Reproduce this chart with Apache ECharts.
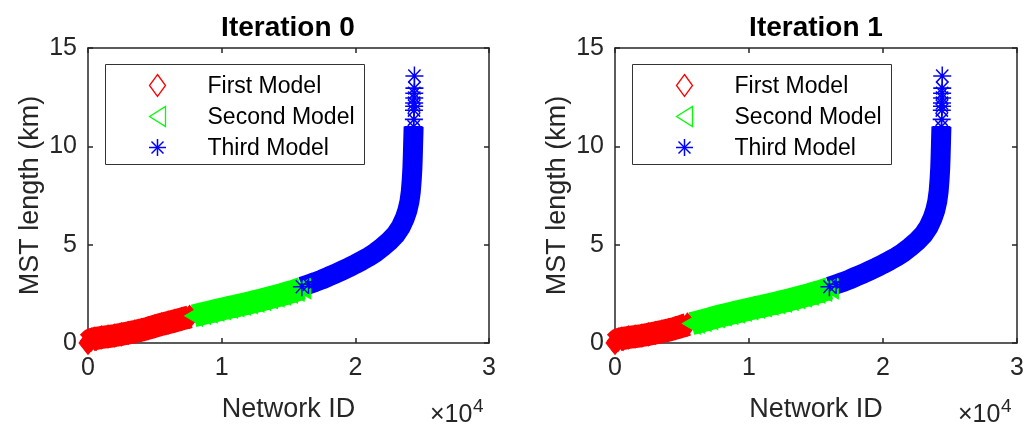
<!DOCTYPE html>
<html>
<head>
<meta charset="utf-8">
<script src="https://cdn.jsdelivr.net/npm/echarts@6/dist/echarts.min.js"></script>
<style>
	html, body { margin: 0; padding: 0; background: #fff; }
	#main { width: 1031px; height: 428px; }
</style>
</head>
<body>
<div id="main"></div>
<script>
// Iteration 0
var firstIds0 = [0, 100, 250, 500, 1000, 1500, 2000, 2500, 3000, 3500, 4000, 4500, 5000, 5500, 6000, 6500, 7000, 7600];
var firstMst0 = [0.0, 0.1, 0.17, 0.22, 0.28, 0.33, 0.38, 0.44, 0.51, 0.58, 0.66, 0.75, 0.85, 0.95, 1.04, 1.13, 1.22, 1.33];
var secondIds0 = [7900, 8500, 9000, 9500, 10000, 10500, 11000, 11500, 12000, 12500, 13000, 13500, 14000, 14500, 15000, 15500, 16000];
var secondMst0 = [1.38, 1.48, 1.56, 1.64, 1.72, 1.8, 1.87, 1.95, 2.03, 2.11, 2.19, 2.28, 2.37, 2.46, 2.56, 2.66, 2.78];
var thirdIds0 = [16000, 16500, 17000, 17500, 18000, 18500, 19000, 19500, 20000, 20500, 21000, 21500, 22000, 22500, 23000, 23400, 23700, 23900, 24050, 24150, 24220, 24270, 24300, 24320, 24340, 24360];
var thirdMst0 = [2.86, 2.98, 3.1, 3.23, 3.38, 3.52, 3.68, 3.84, 4.01, 4.19, 4.38, 4.6, 4.86, 5.15, 5.5, 5.9, 6.35, 6.75, 7.2, 7.7, 8.3, 8.9, 9.5, 10.0, 10.5, 11.0];
var topIds0 = [24380, 24390, 24400, 24400, 24410, 24410, 24420, 24420];
var topMst0 = [11.37, 11.84, 12.04, 12.2, 12.46, 12.7, 12.96, 13.58];

// Iteration 1
var firstIds1 = [0, 100, 250, 500, 1000, 1500, 2000, 2500, 3000, 3500, 4000, 4500, 5000, 5400];
var firstMst1 = [0.0, 0.1, 0.17, 0.22, 0.28, 0.33, 0.38, 0.44, 0.51, 0.58, 0.66, 0.75, 0.85, 0.94];
var secondIds1 = [5700, 6000, 6500, 7000, 7500, 8000, 8500, 9000, 9500, 10000, 10500, 11000, 11500, 12000, 12500, 13000, 13500, 14000, 14500, 15000, 15500, 16000];
var secondMst1 = [0.99, 1.04, 1.13, 1.22, 1.31, 1.4, 1.48, 1.56, 1.64, 1.72, 1.8, 1.87, 1.95, 2.03, 2.11, 2.19, 2.28, 2.37, 2.46, 2.56, 2.66, 2.78];
var thirdIds1 = [16000, 16500, 17000, 17500, 18000, 18500, 19000, 19500, 20000, 20500, 21000, 21500, 22000, 22500, 23000, 23400, 23700, 23900, 24050, 24150, 24220, 24270, 24300, 24320, 24340, 24360];
var thirdMst1 = [2.86, 2.98, 3.1, 3.23, 3.38, 3.52, 3.68, 3.84, 4.01, 4.19, 4.38, 4.6, 4.86, 5.15, 5.5, 5.9, 6.35, 6.75, 7.2, 7.7, 8.3, 8.9, 9.5, 10.0, 10.5, 11.0];
var topIds1 = [24380, 24390, 24400, 24400, 24410, 24410, 24420, 24420];
var topMst1 = [11.37, 11.84, 12.04, 12.2, 12.46, 12.7, 12.96, 13.58];

var titles = ['Iteration 0', 'Iteration 1'];
var modelNames = ['First Model', 'Second Model', 'Third Model'];
var xTicks = [0, 10000, 20000, 30000];
var yTicks = [0, 5, 10, 15];

var FONT = 'Liberation Sans, Arial, sans-serif';
var AXIS_COLOR = '#262626';
var RED = '#ff0000', GREEN = '#00ff00', BLUE = '#0000ff';
var DIAMOND = 'path://M9,0 L18,11 L9,22 L0,11 Z';
var TRI_LEFT = 'path://M0,11 L18,0 L18,22 Z';
var STAR = 'path://M5,0 L5,10 M0,5 L10,5 M1.6,1.6 L8.4,8.4 M1.6,8.4 L8.4,1.6';

var grids = [
	{ left: 88, top: 48, width: 401, height: 299 },
	{ left: 615, top: 48, width: 402, height: 299 }
];

function pairs(xs, ys) {
	var out = [];
	for (var i = 0; i < xs.length; i++) {
		out.push([xs[i], ys[i]]);
	}
	return out;
}

function xAxisFor(idx, position) {
	var bottom = position == 'bottom';
	return {
		type: 'value',
		gridIndex: idx,
		position: position,
		min: xTicks[0],
		max: xTicks[xTicks.length - 1],
		interval: 10000,
		name: bottom ? 'Network ID' : '',
		nameLocation: 'middle',
		nameGap: 53,
		nameTextStyle: { fontSize: 27, color: AXIS_COLOR, fontFamily: FONT },
		axisLine: { show: true, onZero: false, lineStyle: { color: AXIS_COLOR, width: 1.5 } },
		axisTick: { show: true, inside: true, length: 5, lineStyle: { color: AXIS_COLOR, width: 1.5 } },
		axisLabel: {
			show: bottom,
			fontSize: 25,
			color: AXIS_COLOR,
			fontFamily: FONT,
			margin: 13,
			formatter: function (v) { return String(v / 10000); }
		},
		splitLine: { show: false }
	};
}

function yAxisFor(idx, position) {
	var left = position == 'left';
	return {
		type: 'value',
		gridIndex: idx,
		position: position,
		min: yTicks[0],
		max: yTicks[yTicks.length - 1],
		interval: 5,
		name: left ? 'MST length (km)' : '',
		nameLocation: 'middle',
		nameGap: 44,
		nameTextStyle: { fontSize: 27, color: AXIS_COLOR, fontFamily: FONT },
		axisLine: { show: true, onZero: false, lineStyle: { color: AXIS_COLOR, width: 1.5 } },
		axisTick: { show: true, inside: true, length: 5, lineStyle: { color: AXIS_COLOR, width: 1.5 } },
		axisLabel: { show: left, fontSize: 25, color: AXIS_COLOR, fontFamily: FONT, margin: 11 },
		splitLine: { show: false }
	};
}

function bandSeries(idx, name, data, symbol, size, color, width, hollowSymbol) {
	return {
		name: name,
		type: 'line',
		xAxisIndex: idx * 2,
		yAxisIndex: idx * 2,
		data: data,
		symbol: symbol,
		symbolSize: size,
		showSymbol: true,
		showAllSymbol: true,
		clip: false,
		silent: true,
		animation: false,
		itemStyle: hollowSymbol
			? { color: color, borderColor: color, borderWidth: 1.5 }
			: { color: color, borderColor: color, borderWidth: 1 },
		lineStyle: { color: color, width: width, join: 'round' },
		emphasis: { disabled: true }
	};
}

// legend box drawn by hand so marker and text columns sit where they do in the figure
function legendGraphic(left) {
	var rows = [21, 52, 83];
	var mx = 52, tx = 102;
	var children = [
		{ type: 'rect', shape: { x: 0, y: 0, width: 259, height: 100 }, style: { fill: '#fff', stroke: '#333', lineWidth: 1 } },
		{ type: 'polygon', shape: { points: [[mx, rows[0] - 11], [mx + 8, rows[0]], [mx, rows[0] + 11], [mx - 8, rows[0]]] }, style: { fill: 'none', stroke: RED, lineWidth: 1.3 } },
		{ type: 'polygon', shape: { points: [[mx - 8, rows[1]], [mx + 8, rows[1] - 10], [mx + 8, rows[1] + 10]] }, style: { fill: 'none', stroke: GREEN, lineWidth: 1.3 } }
	];
	var r = 8.5, d = 6;
	var segs = [[0, -r, 0, r], [-r, 0, r, 0], [-d, -d, d, d], [-d, d, d, -d]];
	for (var i = 0; i < segs.length; i++) {
		children.push({ type: 'line', shape: { x1: mx + segs[i][0], y1: rows[2] + segs[i][1], x2: mx + segs[i][2], y2: rows[2] + segs[i][3] }, style: { stroke: BLUE, lineWidth: 1.5 } });
	}
	for (var j = 0; j < modelNames.length; j++) {
		children.push({ type: 'text', x: tx, y: rows[j] + 1, style: { text: modelNames[j], fontSize: 23, fill: '#000', fontFamily: FONT, verticalAlign: 'middle', align: 'left' } });
	}
	return { type: 'group', left: left, top: 64, children: children };
}

function exponentLabel(left) {
	return [
		{ type: 'text', left: left, top: 403, style: { text: '×10', fontSize: 25, fill: AXIS_COLOR, fontFamily: FONT } },
		{ type: 'text', left: left + 43, top: 397, style: { text: '4', fontSize: 19, fill: AXIS_COLOR, fontFamily: FONT } }
	];
}

function chartSeries(idx, fIds, fMst, sIds, sMst, tIds, tMst, pIds, pMst) {
	return [
		bandSeries(idx, modelNames[0], pairs(fIds, fMst), DIAMOND, [18, 23], RED, 23, false),
		bandSeries(idx, modelNames[1], pairs(sIds, sMst), TRI_LEFT, [18, 21], GREEN, 23, false),
		bandSeries(idx, modelNames[2], pairs(tIds, tMst), STAR, [18, 19], BLUE, 20, true),
		{
			name: modelNames[2],
			type: 'scatter',
			xAxisIndex: idx * 2,
			yAxisIndex: idx * 2,
			data: pairs(pIds, pMst),
			symbol: STAR,
			symbolSize: [18, 19],
			clip: false,
			silent: true,
			animation: false,
			itemStyle: { color: BLUE, borderColor: BLUE, borderWidth: 1.5, opacity: 1 },
			emphasis: { disabled: true }
		}
	];
}

var chart = echarts.init(document.getElementById('main'), null, { renderer: 'canvas' });

var option = {
	backgroundColor: '#fff',
	animation: false,
	title: [
		{ text: titles[0], left: 288, top: 14, textAlign: 'center', padding: 0, textStyle: { fontSize: 28, fontWeight: 'bold', color: '#000', fontFamily: FONT } },
		{ text: titles[1], left: 816, top: 14, textAlign: 'center', padding: 0, textStyle: { fontSize: 28, fontWeight: 'bold', color: '#000', fontFamily: FONT } }
	],
	grid: grids,
	xAxis: [xAxisFor(0, 'bottom'), xAxisFor(0, 'top'), xAxisFor(1, 'bottom'), xAxisFor(1, 'top')],
	yAxis: [yAxisFor(0, 'left'), yAxisFor(0, 'right'), yAxisFor(1, 'left'), yAxisFor(1, 'right')],
	graphic: [legendGraphic(105), legendGraphic(632)].concat(exponentLabel(430), exponentLabel(958)),
	series: [].concat(
		chartSeries(0, firstIds0, firstMst0, secondIds0, secondMst0, thirdIds0, thirdMst0, topIds0, topMst0),
		chartSeries(1, firstIds1, firstMst1, secondIds1, secondMst1, thirdIds1, thirdMst1, topIds1, topMst1)
	)
};

chart.setOption(option);
</script>
</body>
</html>
